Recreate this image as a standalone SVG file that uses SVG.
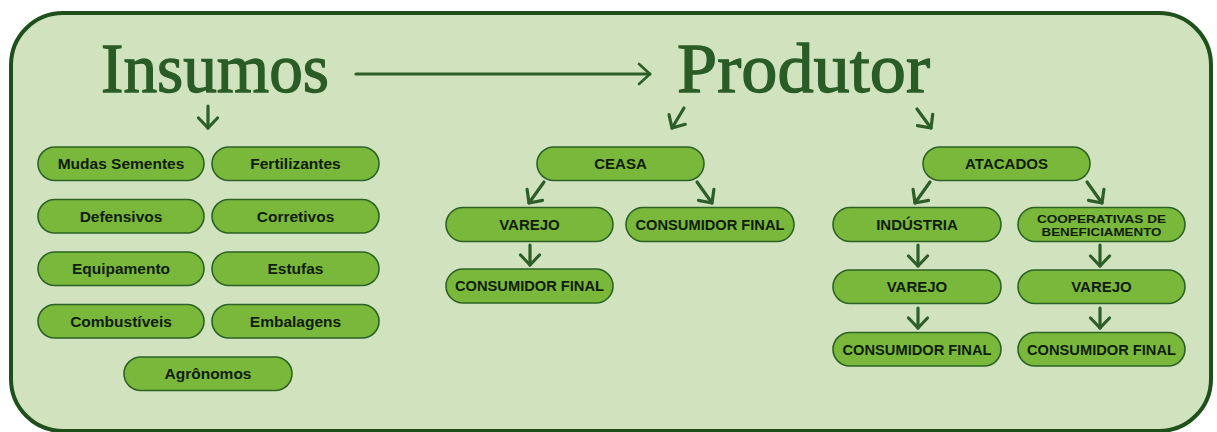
<svg xmlns="http://www.w3.org/2000/svg" width="1217" height="432" viewBox="0 0 1217 432">
<defs>
<style>
.pill{fill:#7ab83b;stroke:#2d6226;stroke-width:1.6}
.pt{font-family:"Liberation Sans",Arial,sans-serif;font-weight:bold;font-size:15.5px;fill:#101c0c;text-anchor:middle}
.cap{font-size:15px}
.title{font-family:"Liberation Serif","Times New Roman",serif;font-size:70px;fill:#2a5c28;stroke:#2a5c28;stroke-width:1.3}
.ar{fill:none;stroke:#2d5e2a;stroke-width:3.2;stroke-linecap:round;stroke-linejoin:round}
</style>
<marker id="hd" markerUnits="userSpaceOnUse" markerWidth="30" markerHeight="30" viewBox="-15 -15 30 30" refX="0" refY="0" orient="auto" overflow="visible">
<path d="M-10 -9.5 L0 0 L-10 9.5" fill="none" stroke="#2d5e2a" stroke-width="3.2" stroke-linecap="round" stroke-linejoin="round"/>
</marker>
<marker id="hd2" markerUnits="userSpaceOnUse" markerWidth="30" markerHeight="30" viewBox="-15 -15 30 30" refX="0" refY="0" orient="auto" overflow="visible">
<path d="M-11 -10 L0 0 L-11 10" fill="none" stroke="#2d5e2a" stroke-width="2.6" stroke-linecap="round" stroke-linejoin="round"/>
</marker>
</defs>
<rect x="0" y="0" width="1217" height="432" fill="#ffffff"/>
<rect id="frame" x="11" y="13" width="1200" height="418" rx="52" fill="#d0e3be" stroke="#1f4f1d" stroke-width="4"/>

<g id="insumos"><text class="title" x="101" y="92" textLength="228" lengthAdjust="spacingAndGlyphs">Insumos</text></g>
<g id="produtor"><text class="title" x="677" y="92" textLength="253" lengthAdjust="spacingAndGlyphs">Produtor</text></g>

<g id="connectors">
<line class="ar" x1="356" y1="74" x2="650" y2="74" stroke-width="2.6" marker-end="url(#hd2)"/>
<line class="ar" x1="208" y1="106" x2="208" y2="128" marker-end="url(#hd)"/>
<line class="ar" x1="684" y1="108" x2="672" y2="128" marker-end="url(#hd)"/>
<line class="ar" x1="917" y1="109" x2="931" y2="128" marker-end="url(#hd)"/>
<line class="ar" x1="544" y1="182" x2="529" y2="203" marker-end="url(#hd)"/>
<line class="ar" x1="697" y1="182" x2="712" y2="203" marker-end="url(#hd)"/>
<line class="ar" x1="530" y1="245" x2="530" y2="265" marker-end="url(#hd)"/>
<line class="ar" x1="930" y1="182" x2="915" y2="203" marker-end="url(#hd)"/>
<line class="ar" x1="1087" y1="182" x2="1102" y2="203" marker-end="url(#hd)"/>
<line class="ar" x1="918" y1="245" x2="918" y2="266" marker-end="url(#hd)"/>
<line class="ar" x1="1100" y1="245" x2="1100" y2="266" marker-end="url(#hd)"/>
<line class="ar" x1="918" y1="308" x2="918" y2="328" marker-end="url(#hd)"/>
<line class="ar" x1="1100" y1="308" x2="1100" y2="328" marker-end="url(#hd)"/>
</g>

<g id="mudas"><rect class="pill" x="38" y="147" width="166" height="33.5" rx="16.75"/><text class="pt" x="121" y="169.3">Mudas Sementes</text></g>
<g id="fertilizantes"><rect class="pill" x="212" y="147" width="167" height="33.5" rx="16.75"/><text class="pt" x="295.5" y="169.3">Fertilizantes</text></g>
<g id="defensivos"><rect class="pill" x="38" y="199.5" width="166" height="33.5" rx="16.75"/><text class="pt" x="121" y="221.8">Defensivos</text></g>
<g id="corretivos"><rect class="pill" x="212" y="199.5" width="167" height="33.5" rx="16.75"/><text class="pt" x="295.5" y="221.8">Corretivos</text></g>
<g id="equipamento"><rect class="pill" x="38" y="252" width="166" height="33.5" rx="16.75"/><text class="pt" x="121" y="274.3">Equipamento</text></g>
<g id="estufas"><rect class="pill" x="212" y="252" width="167" height="33.5" rx="16.75"/><text class="pt" x="295.5" y="274.3">Estufas</text></g>
<g id="combustiveis"><rect class="pill" x="38" y="304.5" width="166" height="33.5" rx="16.75"/><text class="pt" x="121" y="326.8">Combustíveis</text></g>
<g id="embalagens"><rect class="pill" x="212" y="304.5" width="167" height="33.5" rx="16.75"/><text class="pt" x="295.5" y="326.8">Embalagens</text></g>
<g id="agronomos"><rect class="pill" x="124" y="357" width="168" height="33.5" rx="16.75"/><text class="pt" x="208" y="379.3">Agrônomos</text></g>

<g id="ceasa"><rect class="pill" x="537" y="147" width="167" height="33.5" rx="16.75"/><text class="pt cap" x="620.5" y="169.2">CEASA</text></g>
<g id="varejo1"><rect class="pill" x="446" y="207.5" width="167" height="34" rx="17"/><text class="pt cap" x="529.5" y="229.8">VAREJO</text></g>
<g id="cf1"><rect class="pill" x="626" y="207.5" width="168" height="34" rx="17"/><text class="pt cap" x="710" y="229.8" textLength="149" lengthAdjust="spacingAndGlyphs">CONSUMIDOR FINAL</text></g>
<g id="cf2"><rect class="pill" x="446" y="269" width="167" height="34" rx="17"/><text class="pt cap" x="529.5" y="291.3" textLength="149" lengthAdjust="spacingAndGlyphs">CONSUMIDOR FINAL</text></g>

<g id="atacados"><rect class="pill" x="923" y="147" width="167" height="33.5" rx="16.75"/><text class="pt cap" x="1006.5" y="169.2">ATACADOS</text></g>
<g id="industria"><rect class="pill" x="833" y="207.5" width="168" height="34" rx="17"/><text class="pt cap" x="917" y="229.8">INDÚSTRIA</text></g>
<g id="cooperativas"><rect class="pill" x="1018" y="207.5" width="167" height="34" rx="17"/><text class="pt" style="font-size:11px" x="1101.5" y="223" textLength="129" lengthAdjust="spacingAndGlyphs">COOPERATIVAS DE</text><text class="pt" style="font-size:11px" x="1101.5" y="235.5" textLength="120" lengthAdjust="spacingAndGlyphs">BENEFICIAMENTO</text></g>
<g id="varejo2"><rect class="pill" x="833" y="270" width="168" height="33.5" rx="16.75"/><text class="pt cap" x="917" y="292.2">VAREJO</text></g>
<g id="varejo3"><rect class="pill" x="1018" y="270" width="167" height="33.5" rx="16.75"/><text class="pt cap" x="1101.5" y="292.2">VAREJO</text></g>
<g id="cf3"><rect class="pill" x="833" y="332.5" width="168" height="33.5" rx="16.75"/><text class="pt cap" x="917" y="354.7" textLength="149" lengthAdjust="spacingAndGlyphs">CONSUMIDOR FINAL</text></g>
<g id="cf4"><rect class="pill" x="1018" y="332.5" width="167" height="33.5" rx="16.75"/><text class="pt cap" x="1101.5" y="354.7" textLength="149" lengthAdjust="spacingAndGlyphs">CONSUMIDOR FINAL</text></g>
</svg>
